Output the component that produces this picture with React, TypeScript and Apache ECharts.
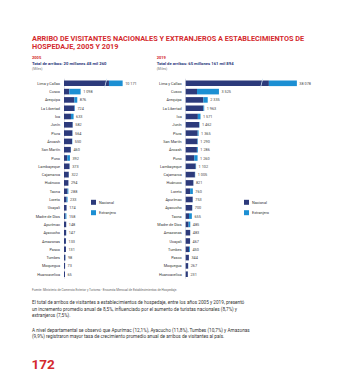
import React, { useEffect, useRef } from "react";
import * as echarts from "echarts";

const regions2005 = ["Lima y Callao", "Cusco", "Arequipa", "La Libertad", "Ica", "Junín", "Piura", "Áncash", "San Martín", "Puno", "Lambayeque", "Cajamarca", "Huánuco", "Tacna", "Loreto", "Ucayali", "Madre de Dios", "Apurímac", "Ayacucho", "Amazonas", "Pasco", "Tumbes", "Moquegua", "Huancavelica"];
const nacional2005 = [9268, 350, 680, 690, 460, 570, 550, 530, 450, 220, 365, 315, 290, 235, 170, 168, 98, 146, 140, 128, 130, 88, 70, 64];
const extranjero2005 = [903, 748, 196, 34, 173, 12, 14, 20, 10, 172, 8, 7, 4, 53, 63, 6, 60, 2, 7, 5, 1, 10, 3, 1];

const regions2019 = ["Lima y Callao", "Cusco", "Arequipa", "La Libertad", "Ica", "Junín", "Piura", "San Martín", "Áncash", "Puno", "Lambayeque", "Cajamarca", "Huánuco", "Loreto", "Apurímac", "Ayacucho", "Tacna", "Madre de Dios", "Amazonas", "Ucayali", "Tumbes", "Pasco", "Moquegua", "Huancavelica"];
const nacional2019 = [35110, 1200, 1868, 1870, 1290, 1420, 1270, 1240, 1190, 905, 1060, 975, 810, 470, 740, 680, 350, 310, 470, 455, 360, 340, 255, 228];
const extranjero2019 = [2968, 2325, 467, 93, 281, 42, 95, 50, 96, 355, 42, 30, 11, 290, 13, 20, 305, 175, 13, 12, 90, 4, 12, 3];

const axisBreak2005 = { start: 2750, end: 9050 };
const axisBreak2019 = { start: 8050, end: 34340 };

const legendNames = ["Nacional", "Extranjero"];

const NAVY = "#2c3a7b";
const BLUE = "#1c8fd3";
const RED = "#d42a2e";
const FONT = "Roboto";

function fmt(n: number): string {
  return String(n).replace(/\B(?=(\d{3})+(?!\d))/g, " ");
}

function txt(text: string, x: number, y: number, size: number, fill: string, weight = "normal") {
  return {
    type: "text",
    x,
    y,
    silent: true,
    style: {
      text,
      fill,
      font: `${weight} ${size}px ${FONT}`,
      align: "left",
      verticalAlign: "middle",
    },
  };
}

const SLASH = "path://M3,0 L4,0 L1,10 L0,10 Z";

function buildSeries(idx: number, nac: number[], ext: number[], brk: { start: number }) {
  const totals = nac.map((v, i) => v + ext[i]);
  return [
    {
      name: "Nacional",
      type: "bar",
      xAxisIndex: idx,
      yAxisIndex: idx,
      stack: "s" + idx,
      data: nac,
      barWidth: 5.6,
      itemStyle: { color: NAVY },
      markPoint: {
        silent: true,
        symbol: SLASH,
        symbolSize: [3, 9],
        itemStyle: { color: "#d6e7f6" },
        label: { show: false },
        data: [{ coord: [brk.start, 0] }],
      },
    },
    {
      name: "Extranjero",
      type: "bar",
      xAxisIndex: idx,
      yAxisIndex: idx,
      stack: "s" + idx,
      data: ext,
      barWidth: 5.6,
      itemStyle: { color: BLUE },
      label: {
        show: true,
        position: "right",
        distance: 2.5,
        fontFamily: FONT,
        fontSize: 3.8,
        color: "#444",
        formatter: (p: any) => fmt(totals[p.dataIndex]),
      },
    },
  ];
}

function yAxis(idx: number, data: string[]) {
  return {
    type: "category",
    gridIndex: idx,
    data,
    inverse: true,
    axisTick: { show: false },
    axisLine: { show: true, lineStyle: { color: "#c9cdd8", width: 0.6 } },
    axisLabel: { fontFamily: FONT, fontSize: 3.8, color: "#333", margin: 4 },
  };
}

function xAxis(idx: number, max: number, brk: { start: number; end: number }) {
  return {
    type: "value",
    gridIndex: idx,
    min: 0,
    max,
    breaks: [{ start: brk.start, end: brk.end, gap: 0 }],
    breakArea: { show: false },
    axisLine: { show: false },
    axisTick: { show: false },
    axisLabel: { show: false },
    splitLine: { show: false },
  };
}

function legend(left: number) {
  return {
    data: legendNames,
    left,
    top: 199.8,
    orient: "vertical",
    itemWidth: 5,
    itemHeight: 5,
    itemGap: 5.4,
    icon: "rect",
    selectedMode: false,
    padding: 0,
    textStyle: { fontFamily: FONT, fontSize: 3.8, color: "#333", padding: [0, 0, 0, -2] },
  };
}

export default function App() {
  const ref = useRef<HTMLDivElement>(null);
  useEffect(() => {
    if (!ref.current) return;
    const chart = echarts.init(ref.current, null, { renderer: "svg" });
    chart.setOption({
      animation: false,
      backgroundColor: "#ffffff",
      grid: [
        { left: 64, top: 79.15, width: 71.2, height: 199.2 },
        { left: 185.7, top: 79.15, width: 129.3, height: 199.2 },
      ],
      xAxis: [xAxis(0, 11000, axisBreak2005), xAxis(1, 40000, axisBreak2019)],
      yAxis: [yAxis(0, regions2005), yAxis(1, regions2019)],
      legend: [legend(91), legend(244)],
      series: [
        ...buildSeries(0, nacional2005, extranjero2005, axisBreak2005),
        ...buildSeries(1, nacional2019, extranjero2019, axisBreak2019),
      ],
      graphic: [
        txt("ARRIBO DE VISITANTES NACIONALES Y EXTRANJEROS A ESTABLECIMIENTOS DE", 32, 38.7, 7.3, RED, "bold"),
        txt("HOSPEDAJE, 2005 Y 2019", 32, 46.2, 7.3, RED, "bold"),
        txt("2005", 32, 57.7, 4, RED, "bold"),
        txt("Total de arribos: 20 millones 48 mil 260", 32, 63.7, 4.2, NAVY, "bold"),
        txt("(Miles)", 32, 69.2, 3.4, "#777"),
        txt("2019", 156.7, 57.7, 4, RED, "bold"),
        txt("Total de arribos: 65 millones 161 mil 894", 156.7, 63.7, 4.2, NAVY, "bold"),
        txt("(Miles)", 156.7, 69.2, 3.4, "#777"),
        txt("Fuente: Ministerio de Comercio Exterior y Turismo - Encuesta Mensual de Establecimientos de Hospedaje.", 32, 290, 3.1, "#666"),
        txt("El total de arribos de visitantes a establecimientos de hospedaje, entre los años 2005 y 2019, presentó", 32, 302.5, 4.7, "#333"),
        txt("un incremento promedio anual de 8,5%, influenciado por el aumento de turistas nacionales (8,7%) y", 32, 309, 4.7, "#333"),
        txt("extranjeros (7,5%).", 32, 315.5, 4.7, "#333"),
        txt("A nivel departamental se observó que Apurímac (12,1%), Ayacucho (11,8%), Tumbes (10,7%) y Amazonas", 32, 330, 4.7, "#333"),
        txt("(9,9%) registraron mayor tasa de crecimiento promedio anual de arribos de visitantes al país.", 32, 336.5, 4.7, "#333"),
        txt("172", 31.5, 363.5, 13.5, RED, "bold"),
      ],
    });
    return () => chart.dispose();
  }, []);
  return (
    <div
      ref={ref}
      style={{ position: "absolute", left: 0, top: 0, width: 351, height: 380, background: "#fff" }}
    />
  );
}
